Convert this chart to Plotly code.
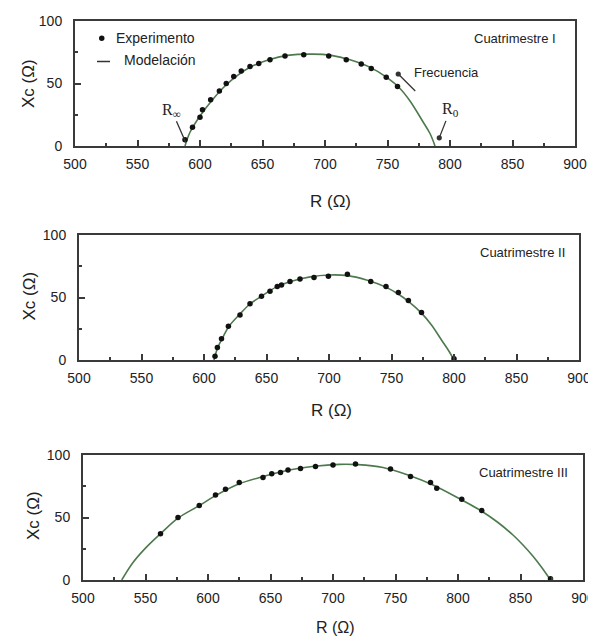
import plotly.graph_objects as go

# ---------------- Data ----------------
# Cuatrimestre I
exp1_R = [588, 594, 600, 602, 608.5, 615.5, 621, 627, 633, 640, 647, 656, 668, 683, 703, 717, 729, 737, 749, 758]
exp1_X = [5, 15, 23, 29, 37, 44, 50, 55.5, 60, 63.5, 66, 69, 72, 73, 72, 69, 65.6, 62, 55, 47.5]
mod1_R = [588, 592, 600, 610, 620, 630, 640, 655, 670, 690, 705, 720, 735, 750, 760, 768, 778, 784, 788]
mod1_X = [0, 11, 24, 37, 48, 56.5, 63, 69, 72.5, 73.5, 72.5, 69, 63.5, 54.5, 46, 36, 20, 10, 0]

# Cuatrimestre II
exp2_R = [608.8, 610.7, 614, 619.5, 628.8, 636.8, 646, 652.8, 658.6, 662, 668.8, 676.8, 688, 699.5, 714.7, 733.4, 745.6, 755.5, 763.5, 774, 800]
exp2_X = [3, 10, 17, 27, 36, 45, 51, 55, 58.7, 60, 62.7, 64.8, 66, 67, 68.5, 62.7, 58.7, 54, 47.5, 38, 1]
mod2_R = [608, 611, 615, 620, 628, 637, 646, 658, 670, 685, 700, 715, 730, 745, 755, 764, 774, 782, 790, 796, 800]
mod2_X = [0, 10, 18, 27, 36, 45, 51, 58.5, 63, 66.5, 68, 67.5, 64, 58.5, 53, 46.5, 37.5, 28, 16, 7, 0]

# Cuatrimestre III
exp3_R = [562, 576, 593, 606, 614, 625, 644, 651, 658, 664, 674, 686, 700, 718, 746, 762, 778, 783, 803, 819, 874]
exp3_X = [37, 50, 59.5, 68, 72.5, 78, 82, 85, 86, 88, 89.3, 90.7, 92, 92.8, 88.8, 82.7, 78, 73.3, 64.5, 55.5, 1]
mod3_R = [531, 540, 550, 562, 576, 593, 606, 625, 645, 665, 685, 705, 720, 740, 760, 780, 803, 819, 832, 844, 852, 860, 867, 874]
mod3_X = [0, 14, 25.5, 37, 49.5, 59.5, 67.5, 77, 83, 88, 91, 92.5, 92.3, 90, 84, 76, 64, 55, 46, 36, 28, 19, 10, 0]

panel_names = ["Cuatrimestre I", "Cuatrimestre II", "Cuatrimestre III"]
x_tick_vals = [500, 550, 600, 650, 700, 750, 800, 850, 900]
y_tick_vals = [0, 50, 100]

W, H = 596, 638
OFF = 8  # the page body margin offsets the figure by this many pixels
FONT = "Liberation Sans, Arial, sans-serif"
AXC = "#3a3a3a"
CURVE = "#4c7a4c"


def px_x(p):
    return (p - OFF) / W


def px_y(p):
    return 1 - (p - OFF) / H


# pixel boxes of each plot area on the page: (left, right, top, bottom)
boxes = [(75, 575, 21, 146), (79, 579, 235, 360), (83, 583, 455, 580)]
xtitle_pos = [(330, 202), (331, 410), (335, 627)]
xtitle_size = [17, 17, 16]
ytitle_pos = [(29, 84), (28.5, 296), (33, 516)]

fig = go.Figure()
datasets = [(exp1_R, exp1_X, mod1_R, mod1_X),
            (exp2_R, exp2_X, mod2_R, mod2_X),
            (exp3_R, exp3_X, mod3_R, mod3_X)]

for i, (eR, eX, mR, mX) in enumerate(datasets):
    sfx = "" if i == 0 else str(i + 1)
    fig.add_trace(go.Scatter(x=mR, y=mX, mode="lines", line=dict(color=CURVE, width=1.6, shape="spline"),
                             xaxis="x" + sfx, yaxis="y" + sfx, showlegend=False, name="Modelación"))
    fig.add_trace(go.Scatter(x=eR, y=eX, mode="markers", marker=dict(color="#111", size=5.5),
                             xaxis="x" + sfx, yaxis="y" + sfx, showlegend=False, name="Experimento"))

layout = dict(template="none", width=W, height=H, margin=dict(l=0, r=0, t=0, b=0, pad=0),
              paper_bgcolor="white", plot_bgcolor="white",
              font=dict(family=FONT, color="#222", size=14), showlegend=False)

annotations = []
shapes = []
for i, (l, r, t, b) in enumerate(boxes):
    sfx = "" if i == 0 else str(i + 1)
    xd = [px_x(l), px_x(r)]
    yd = [px_y(b), px_y(t)]
    layout["xaxis" + sfx] = dict(domain=xd, range=[500, 900], anchor="y" + sfx, automargin=False,
                                 tickvals=x_tick_vals, ticks="inside", ticklen=6, tickwidth=1.5,
                                 tickcolor=AXC, showline=True, linecolor=AXC, linewidth=2, mirror=True,
                                 showgrid=False, zeroline=False, ticklabelstandoff=4,
                                 tickfont=dict(size=14, family=FONT, color="#222"),
                                 minor=dict(dtick=25, tick0=500, ticks="inside", ticklen=3, tickcolor=AXC, tickwidth=1.5))
    layout["yaxis" + sfx] = dict(domain=yd, range=[0, 100], anchor="x" + sfx, automargin=False,
                                 tickvals=y_tick_vals, ticks="inside", ticklen=6, tickwidth=1.5,
                                 tickcolor=AXC, showline=True, linecolor=AXC, linewidth=2, mirror=True,
                                 showgrid=False, zeroline=False, ticklabelstandoff=8,
                                 tickfont=dict(size=14, family=FONT, color="#222"),
                                 minor=dict(dtick=25, tick0=0, ticks="inside", ticklen=3, tickcolor=AXC, tickwidth=1.5))
    # axis titles
    tx, ty = xtitle_pos[i]
    annotations.append(dict(text="R (Ω)", xref="paper", yref="paper", x=px_x(tx), y=px_y(ty),
                            showarrow=False, font=dict(size=xtitle_size[i], family=FONT, color="#222"),
                            xanchor="center", yanchor="middle"))
    yx, yy = ytitle_pos[i]
    annotations.append(dict(text="Xc (Ω)", xref="paper", yref="paper", x=px_x(yx), y=px_y(yy),
                            showarrow=False, textangle=-90,
                            font=dict(size=17, family=FONT, color="#222"), xanchor="center", yanchor="middle"))

# panel labels (right aligned)
label_pos = [(558, 38), (567, 252), (570, 472)]
for name, (px, py) in zip(panel_names, label_pos):
    annotations.append(dict(text=name, xref="paper", yref="paper", x=px_x(px), y=px_y(py),
                            showarrow=False, xanchor="right", yanchor="middle",
                            font=dict(size=13, family=FONT, color="#222")))

# legend (manual)
annotations.append(dict(text="Experimento", xref="paper", yref="paper", x=px_x(114), y=px_y(38),
                        showarrow=False, xanchor="left", yanchor="middle", font=dict(size=14, family=FONT, color="#222")))
annotations.append(dict(text="Modelación", xref="paper", yref="paper", x=px_x(122), y=px_y(60),
                        showarrow=False, xanchor="left", yanchor="middle", font=dict(size=14, family=FONT, color="#222")))
shapes.append(dict(type="circle", xref="paper", yref="paper", x0=px_x(99), x1=px_x(104.5),
                   y0=px_y(41), y1=px_y(35.5), fillcolor="#111", line=dict(width=0)))
shapes.append(dict(type="line", xref="paper", yref="paper", x0=px_x(97), x1=px_x(110),
                   y0=px_y(61.5), y1=px_y(61.5), line=dict(color="#333", width=1.5)))

# in-plot annotations of panel 1
SERIF = "Liberation Serif, Times New Roman, serif"
annotations.append(dict(text="R<sub>∞</sub>", x=588.5, y=3, xref="x", yref="y", ax=-14, ay=-32,
                        showarrow=True, arrowhead=0, arrowwidth=1.3, arrowcolor="#333",
                        font=dict(size=16, family=SERIF, color="#222")))
annotations.append(dict(text="R<sub>0</sub>", x=791.4, y=6.5, xref="x", yref="y", ax=11, ay=-28,
                        showarrow=True, arrowhead=6, arrowsize=1, arrowwidth=1.3, arrowcolor="#333",
                        font=dict(size=16, family=SERIF, color="#222")))
annotations.append(dict(text=" ", x=758.6, y=57.6, xref="x", yref="y", ax=19, ay=19,
                        showarrow=True, arrowhead=6, arrowsize=1, arrowwidth=1.3, arrowcolor="#333",
                        standoff=0, font=dict(size=2)))
annotations.append(dict(text="Frecuencia", x=769.5, y=58.5, xref="x", yref="y", showarrow=False,
                        xanchor="left", yanchor="middle", font=dict(size=13, family=FONT, color="#222")))

layout["annotations"] = annotations
layout["shapes"] = shapes
fig.update_layout(**layout)
fig.write_html("out.html")
